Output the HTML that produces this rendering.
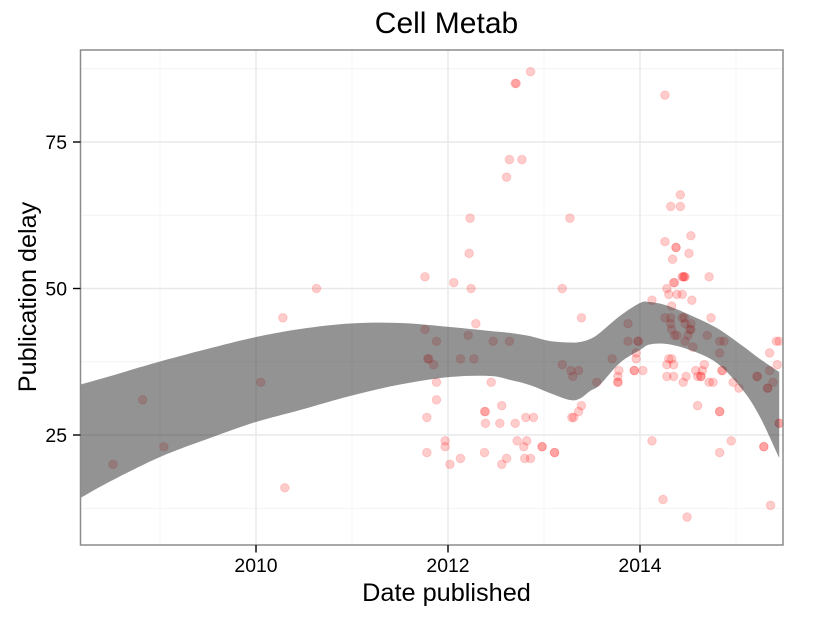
<!DOCTYPE html>
<html>
<head>
<meta charset="utf-8">
<title>Cell Metab</title>
<style>
html,body{margin:0;padding:0;background:#fff;}
svg{display:block;font-family:"Liberation Sans",sans-serif;}
</style>
</head>
<body>
<svg id="chart" width="825" height="618" viewBox="0 0 825 618" xmlns="http://www.w3.org/2000/svg">
<rect x="0" y="0" width="825" height="618" fill="#ffffff"/>
<g id="grid"></g>
<g id="points"></g>
<path id="ribbon" fill="#333333" fill-opacity="0.53" stroke="none"></path>
<rect x="80.5" y="50" width="702.5" height="495" fill="none" stroke="#8c8c8c" stroke-width="1.5"/>
<g id="axes"></g>
<text x="446.5" y="33" font-size="30" text-anchor="middle" fill="#000">Cell Metab</text>
<text x="446.5" y="601" font-size="25.3" text-anchor="middle" fill="#000">Date published</text>
<text transform="translate(36,297) rotate(-90)" font-size="25.2" text-anchor="middle" fill="#000">Publication delay</text>
</svg>
<script>
const xTickLabels = [2010, 2012, 2014];
const xMinorTicks = [2009, 2011, 2013, 2015];
const yTickLabels = [25, 50, 75];
const yMinorTicks = [12.5, 37.5, 62.5, 87.5];

const pointDates = [
2008.51,2008.82,2009.04,2010.05,2010.30,2010.28,2010.63,
2012.86,2012.70,2012.71,2012.64,2012.77,2012.61,2012.23,2013.27,2012.22,2011.76,2012.06,2012.24,2013.19,
2013.39,2012.29,2011.76,2012.21,2011.88,2012.47,2012.64,2011.79,2011.80,2012.13,2012.27,2011.85,2013.19,
2013.28,2013.36,2013.30,2011.88,2012.45,2013.55,2011.88,2012.56,2013.39,2012.38,2012.39,2013.36,
2011.78,2012.81,2012.89,2013.29,2013.31,2012.39,2012.54,2012.70,2011.97,2012.72,2012.82,
2011.97,2012.79,2012.98,2012.98,2011.78,2012.38,2013.11,2013.11,2012.13,2012.61,2012.80,2012.86,2012.02,2012.56,
2014.26,2014.42,2014.32,2014.42,2014.53,2014.26,2014.375,2014.375,2014.51,2014.34,
2014.44,2014.45,2014.46,2014.47,2014.72,2014.35,2014.36,2014.28,2014.30,2014.385,2014.44,2014.125,2014.54,2014.33,
2014.26,2014.32,2014.44,2014.46,2014.74,2013.875,2014.32,2014.47,2014.53,2014.33,2014.52,2014.53,
2014.36,2014.385,2014.50,2014.70,2013.875,2013.98,2013.98,2014.47,2014.83,2014.875,2015.42,2015.45,2014.55,
2013.96,2014.83,2015.35,2013.71,2013.96,2014.30,2014.33,2014.28,2014.35,2014.67,2015.43,
2013.78,2013.94,2013.94,2014.03,2014.58,2014.65,2014.85,2014.86,2015.35,
2013.77,2014.28,2014.35,2014.48,2014.60,2014.635,2014.635,2015.22,2015.22,
2013.77,2013.77,2014.45,2014.72,2014.76,2014.97,2015.385,2015.03,2015.33,2015.33,
2014.60,2014.83,2014.83,2015.45,2015.45,2014.125,2014.95,2015.29,2015.29,2014.83,2014.24,2015.36,2014.49
];
const pointDelays = [
20,31,23,34,16,45,50,
87,85,85,72,72,69,62,62,56,52,51,50,50,
45,44,43,42,41,41,41,38,38,38,38,37,37,
36,36,35,34,34,34,31,30,30,29,29,29,
28,28,28,28,28,27,27,27,24,24,24,
23,23,23,23,22,22,22,22,21,21,21,21,20,20,
83,66,64,64,59,58,57,57,56,55,
52,52,52,52,52,51,51,50,49,49,49,48,48,47,
45,45,45,45,45,44,44,44,44,43,43,43,
42,42,42,42,41,41,41,41,41,41,41,41,40,
39,39,39,38,38,38,38,37,37,37,37,
36,36,36,36,36,36,36,36,36,
35,35,35,35,35,35,35,35,35,
34,34,34,34,34,34,34,33,33,33,
30,29,29,27,27,24,24,23,23,22,14,13,11
];

const ribbonDates = [2008.17,2008.45,2009.00,2009.55,2010.00,2010.46,2010.98,2011.50,2012.02,2012.44,2012.65,2012.85,2013.06,2013.27,2013.375,2013.48,2013.58,2013.79,2014.00,2014.10,2014.28,2014.52,2014.80,2015.07,2015.25,2015.45];
const ribbonUpper = [33.62,34.90,37.54,39.93,41.72,43.09,44.03,44.11,43.43,42.75,42.41,41.89,41.04,40.78,40.87,41.38,42.41,45.31,47.53,47.70,47.10,45.48,43.26,40.19,37.97,35.75];
const ribbonLower = [14.25,16.81,21.25,24.66,27.22,29.27,31.66,33.62,34.90,35.07,34.39,33.53,32.17,30.97,31.23,32.51,33.53,37.29,39.51,40.44,40.53,39.51,37.29,32.68,28.07,21.08];

const SVG_NS = "http://www.w3.org/2000/svg";
function xScale(year) { return 256 + (year - 2010) * 96; }
function yScale(value) { return 435 - (value - 25) * 5.86; }
function make(tag, attrs, parent) {
  const el = document.createElementNS(SVG_NS, tag);
  for (const k in attrs) el.setAttribute(k, attrs[k]);
  parent.appendChild(el);
  return el;
}
const PANEL = {left: 80.5, right: 783, top: 50, bottom: 545};
const grid = document.getElementById("grid");
const axes = document.getElementById("axes");
const pointsLayer = document.getElementById("points");

xMinorTicks.forEach(function (t) {
  const x = xScale(t);
  const el = make("line", {x1: x, x2: x, y1: PANEL.top, y2: PANEL.bottom, stroke: "#f4f4f4", "stroke-width": 1}, grid);
  
  
});
yMinorTicks.forEach(function (t) {
  const y = yScale(t);
  const el = make("line", {x1: PANEL.left, x2: PANEL.right, y1: y, y2: y, stroke: "#f4f4f4", "stroke-width": 1}, grid);
  
  
});
xTickLabels.forEach(function (t) {
  const x = xScale(t);
  const g = make("line", {x1: x, x2: x, y1: PANEL.top, y2: PANEL.bottom, stroke: "#e8e8e8", "stroke-width": 1.4}, grid);
  
  
  const tick = make("line", {x1: x, x2: x, y1: PANEL.bottom, y2: PANEL.bottom + 7.5, stroke: "#000", "stroke-width": 1.4}, axes);
  
  
  const label = make("text", {x: x, y: 572, "font-size": 19.4, "text-anchor": "middle", fill: "#000"}, axes);
  
  
  label.textContent = t;
});
yTickLabels.forEach(function (t) {
  const y = yScale(t);
  const g = make("line", {x1: PANEL.left, x2: PANEL.right, y1: y, y2: y, stroke: "#e8e8e8", "stroke-width": 1.4}, grid);
  
  
  const tick = make("line", {x1: PANEL.left - 7.5, x2: PANEL.left, y1: y, y2: y, stroke: "#000", "stroke-width": 1.4}, axes);
  
  
  const label = make("text", {x: 67, y: y + 7, "font-size": 19.4, "text-anchor": "end", fill: "#000"}, axes);
  
  
  label.textContent = t;
});

pointDates.forEach(function (d, i) {
  const c = make("circle", {cx: xScale(d), cy: yScale(pointDelays[i]), r: 4.3, fill: "#ff0000", "fill-opacity": 0.2, stroke: "#ff0000", "stroke-opacity": 0.14, "stroke-width": 1}, pointsLayer);
  
  
});

function smoothPath(pts, move) {
  let p = (move ? "M" : "L") + pts[0][0].toFixed(2) + " " + pts[0][1].toFixed(2);
  for (let i = 0; i < pts.length - 1; i++) {
    const a = pts[Math.max(i - 1, 0)], b = pts[i], c = pts[i + 1], d = pts[Math.min(i + 2, pts.length - 1)];
    const c1x = b[0] + (c[0] - a[0]) / 6, c1y = b[1] + (c[1] - a[1]) / 6;
    const c2x = c[0] - (d[0] - b[0]) / 6, c2y = c[1] - (d[1] - b[1]) / 6;
    p += "C" + c1x.toFixed(2) + " " + c1y.toFixed(2) + " " + c2x.toFixed(2) + " " + c2y.toFixed(2) + " " + c[0].toFixed(2) + " " + c[1].toFixed(2);
  }
  return p;
}
const upperPts = ribbonDates.map(function (d, i) { return [Math.max(xScale(d), PANEL.left), yScale(ribbonUpper[i])]; });
const lowerPts = ribbonDates.map(function (d, i) { return [Math.max(xScale(d), PANEL.left), yScale(ribbonLower[i])]; }).reverse();
document.getElementById("ribbon").setAttribute("d", smoothPath(upperPts, true) + smoothPath(lowerPts, false) + "Z");
</script>
</body>
</html>
